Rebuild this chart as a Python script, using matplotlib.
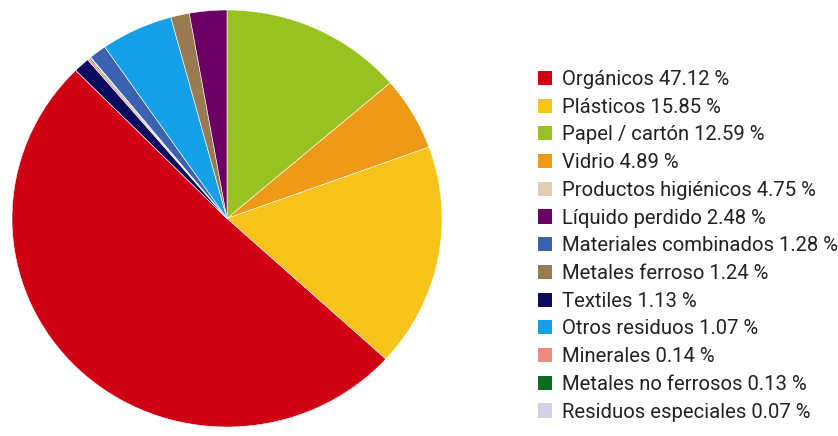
import matplotlib.pyplot as plt
from matplotlib.patches import Patch

# --- legend (as printed next to the pie) ---------------------------------
legend_labels = [
    "Orgánicos 47.12 %",
    "Plásticos 15.85 %",
    "Papel / cartón 12.59 %",
    "Vidrio 4.89 %",
    "Productos higiénicos 4.75 %",
    "Líquido perdido 2.48 %",
    "Materiales combinados 1.28 %",
    "Metales ferroso 1.24 %",
    "Textiles 1.13 %",
    "Otros residuos 1.07 %",
    "Minerales 0.14 %",
    "Metales no ferrosos 0.13 %",
    "Residuos especiales 0.07 %",
]
legend_colors = [
    "#cf0014", "#f6c31a", "#97c21f", "#ef9a17", "#e3cbb0", "#6a0064",
    "#3a62b0", "#9a7a50", "#0a0a5e", "#14a0e8", "#ee8a80", "#0b6b20",
    "#d6d0e6",
]

# --- slices as drawn, clockwise from 12 o'clock (shares) --
slice_names = [
    "Papel / cartón", "Vidrio", "Plásticos", "Orgánicos", "Textiles",
    "Minerales", "Metales no ferrosos", "Residuos especiales",
    "Materiales combinados", "Otros residuos", "Metales ferroso",
    "Líquido perdido",
]
slice_share = [13.7, 5.7, 17.3, 50.7, 1.2, 0.15, 0.1, 0.05, 1.3, 5.4, 1.4, 2.8]
slice_colors = [
    "#97c21f", "#ef9a17", "#f6c31a", "#cf0014", "#0a0a5e", "#ee8a80",
    "#0b6b20", "#d6d0e6", "#3a62b0", "#14a0e8", "#9a7a50", "#6a0064",
]

W, H = 838, 436
fig = plt.figure(figsize=(W / 100, H / 100), dpi=100)

# pie box in pixels (the original is slightly squashed vertically)
ax = fig.add_axes([12 / W, (H - 427) / H, 430 / W, 417 / H])
ax.pie(slice_share, colors=slice_colors, startangle=90, counterclock=False,
       wedgeprops=dict(linewidth=0.4, edgecolor="white"))
ax.set_aspect("auto")
ax.set_xlim(-1, 1)
ax.set_ylim(-1, 1)
ax.axis("off")

handles = [Patch(facecolor=c, edgecolor="none") for c in legend_colors]
fig.legend(handles, legend_labels, loc="upper left",
           bbox_to_anchor=(538 / W, 1 - 70 / H), frameon=False,
           prop=dict(family="Roboto", size=14.6), labelcolor="#222222",
           handlelength=0.69, handleheight=0.69, handletextpad=0.5,
           labelspacing=0.43, borderpad=0, borderaxespad=0)

fig.savefig("out.png", dpi=100, facecolor="white")
